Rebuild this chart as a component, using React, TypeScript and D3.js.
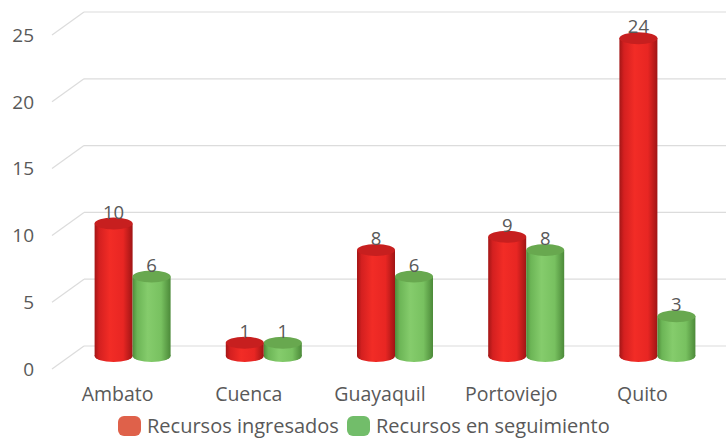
import React from "react";
import * as d3 from "d3";

const categories = ["Ambato", "Cuenca", "Guayaquil", "Portoviejo", "Quito"];
const ingresados = [10, 1, 8, 9, 24];
const seguimiento = [6, 1, 6, 8, 3];
const yTicks = [0, 5, 10, 15, 20, 25];
const seriesNames = ["Recursos ingresados", "Recursos en seguimiento"];

const W = 726;
const H = 439;
const FONT = "'Open Sans', Lato, sans-serif";
const TEXT = "#595959";

export default function App() {
  const x = d3.scaleBand<string>().domain(categories).range([67, 723]).padding(0);
  const barW = 38;
  // wall planes
  const yBack = d3.scaleLinear().domain([0, 25]).range([346, 12]);
  const yFront = d3.scaleLinear().domain([0, 25]).range([369, 35]);
  const yBar = d3.scaleLinear().domain([0, 25]).range([356, 25]);
  const ry = 6;
  const series = [
    { name: seriesNames[0], values: ingresados, grad: "gRed", top: "#c71f1f", legend: "#df614a", off: -barW / 2 },
    { name: seriesNames[1], values: seguimiento, grad: "gGreen", top: "#68a84f", legend: "#72bd6a", off: barW / 2 },
  ];

  return (
    <svg width={W} height={H} style={{ position: "absolute", left: 0, top: 0, background: "#fff" }} fontFamily={FONT}>
      <defs>
        <linearGradient id="gRed" x1="0" x2="1" y1="0" y2="0">
          <stop offset="0%" stopColor="#a31616" />
          <stop offset="12%" stopColor="#d42020" />
          <stop offset="40%" stopColor="#f22c26" />
          <stop offset="75%" stopColor="#e82623" />
          <stop offset="100%" stopColor="#a01515" />
        </linearGradient>
        <linearGradient id="gGreen" x1="0" x2="1" y1="0" y2="0">
          <stop offset="0%" stopColor="#4f8d3b" />
          <stop offset="12%" stopColor="#6cb556" />
          <stop offset="40%" stopColor="#85cc6c" />
          <stop offset="75%" stopColor="#78c160" />
          <stop offset="100%" stopColor="#4c8a39" />
        </linearGradient>
      </defs>

      {/* grid */}
      {yTicks.map((t) => (
        <g key={t}>
          <line x1={84} x2={W} y1={yBack(t)} y2={yBack(t)} stroke="#dcdcdc" strokeWidth={1.2} />
          <line x1={52} x2={84} y1={yFront(t)} y2={yBack(t)} stroke="#dcdcdc" strokeWidth={1.2} />
          <text x={34} y={yFront(t)} dy="0.36em" textAnchor="end" fontSize={19} fill={TEXT}>
            {t}
          </text>
        </g>
      ))}

      {/* bars */}
      {categories.map((c, i) => {
        const cx0 = (x(c) as number) + x.bandwidth() / 2;
        return (
          <g key={c}>
            {series.map((s) => {
              const v = s.values[i];
              const cx = cx0 + s.off;
              const yt = yBar(v);
              const yb = yBar(0);
              return (
                <g key={s.name}>
                  <rect x={cx - barW / 2} y={yt} width={barW} height={yb - yt} fill={`url(#${s.grad})`} />
                  <ellipse cx={cx} cy={yb} rx={barW / 2} ry={ry} fill={`url(#${s.grad})`} />
                  <ellipse cx={cx} cy={yt} rx={barW / 2} ry={ry} fill={s.top} />
                  <text x={cx} y={yt - ry + 1} textAnchor="middle" fontSize={18.5} fill={TEXT}>
                    {v}
                  </text>
                </g>
              );
            })}
            <text x={cx0 - 15} y={401} textAnchor="middle" fontSize={19.5} fill={TEXT}>
              {c}
            </text>
          </g>
        );
      })}

      {/* legend */}
      <g>
        <rect x={118} y={416} width={23} height={20} rx={6} fill={series[0].legend} />
        <text x={147} y={433} fontSize={20} fill={TEXT}>{series[0].name}</text>
        <rect x={347} y={416} width={23} height={20} rx={6} fill={series[1].legend} />
        <text x={376} y={433} fontSize={20} fill={TEXT}>{series[1].name}</text>
      </g>
    </svg>
  );
}
